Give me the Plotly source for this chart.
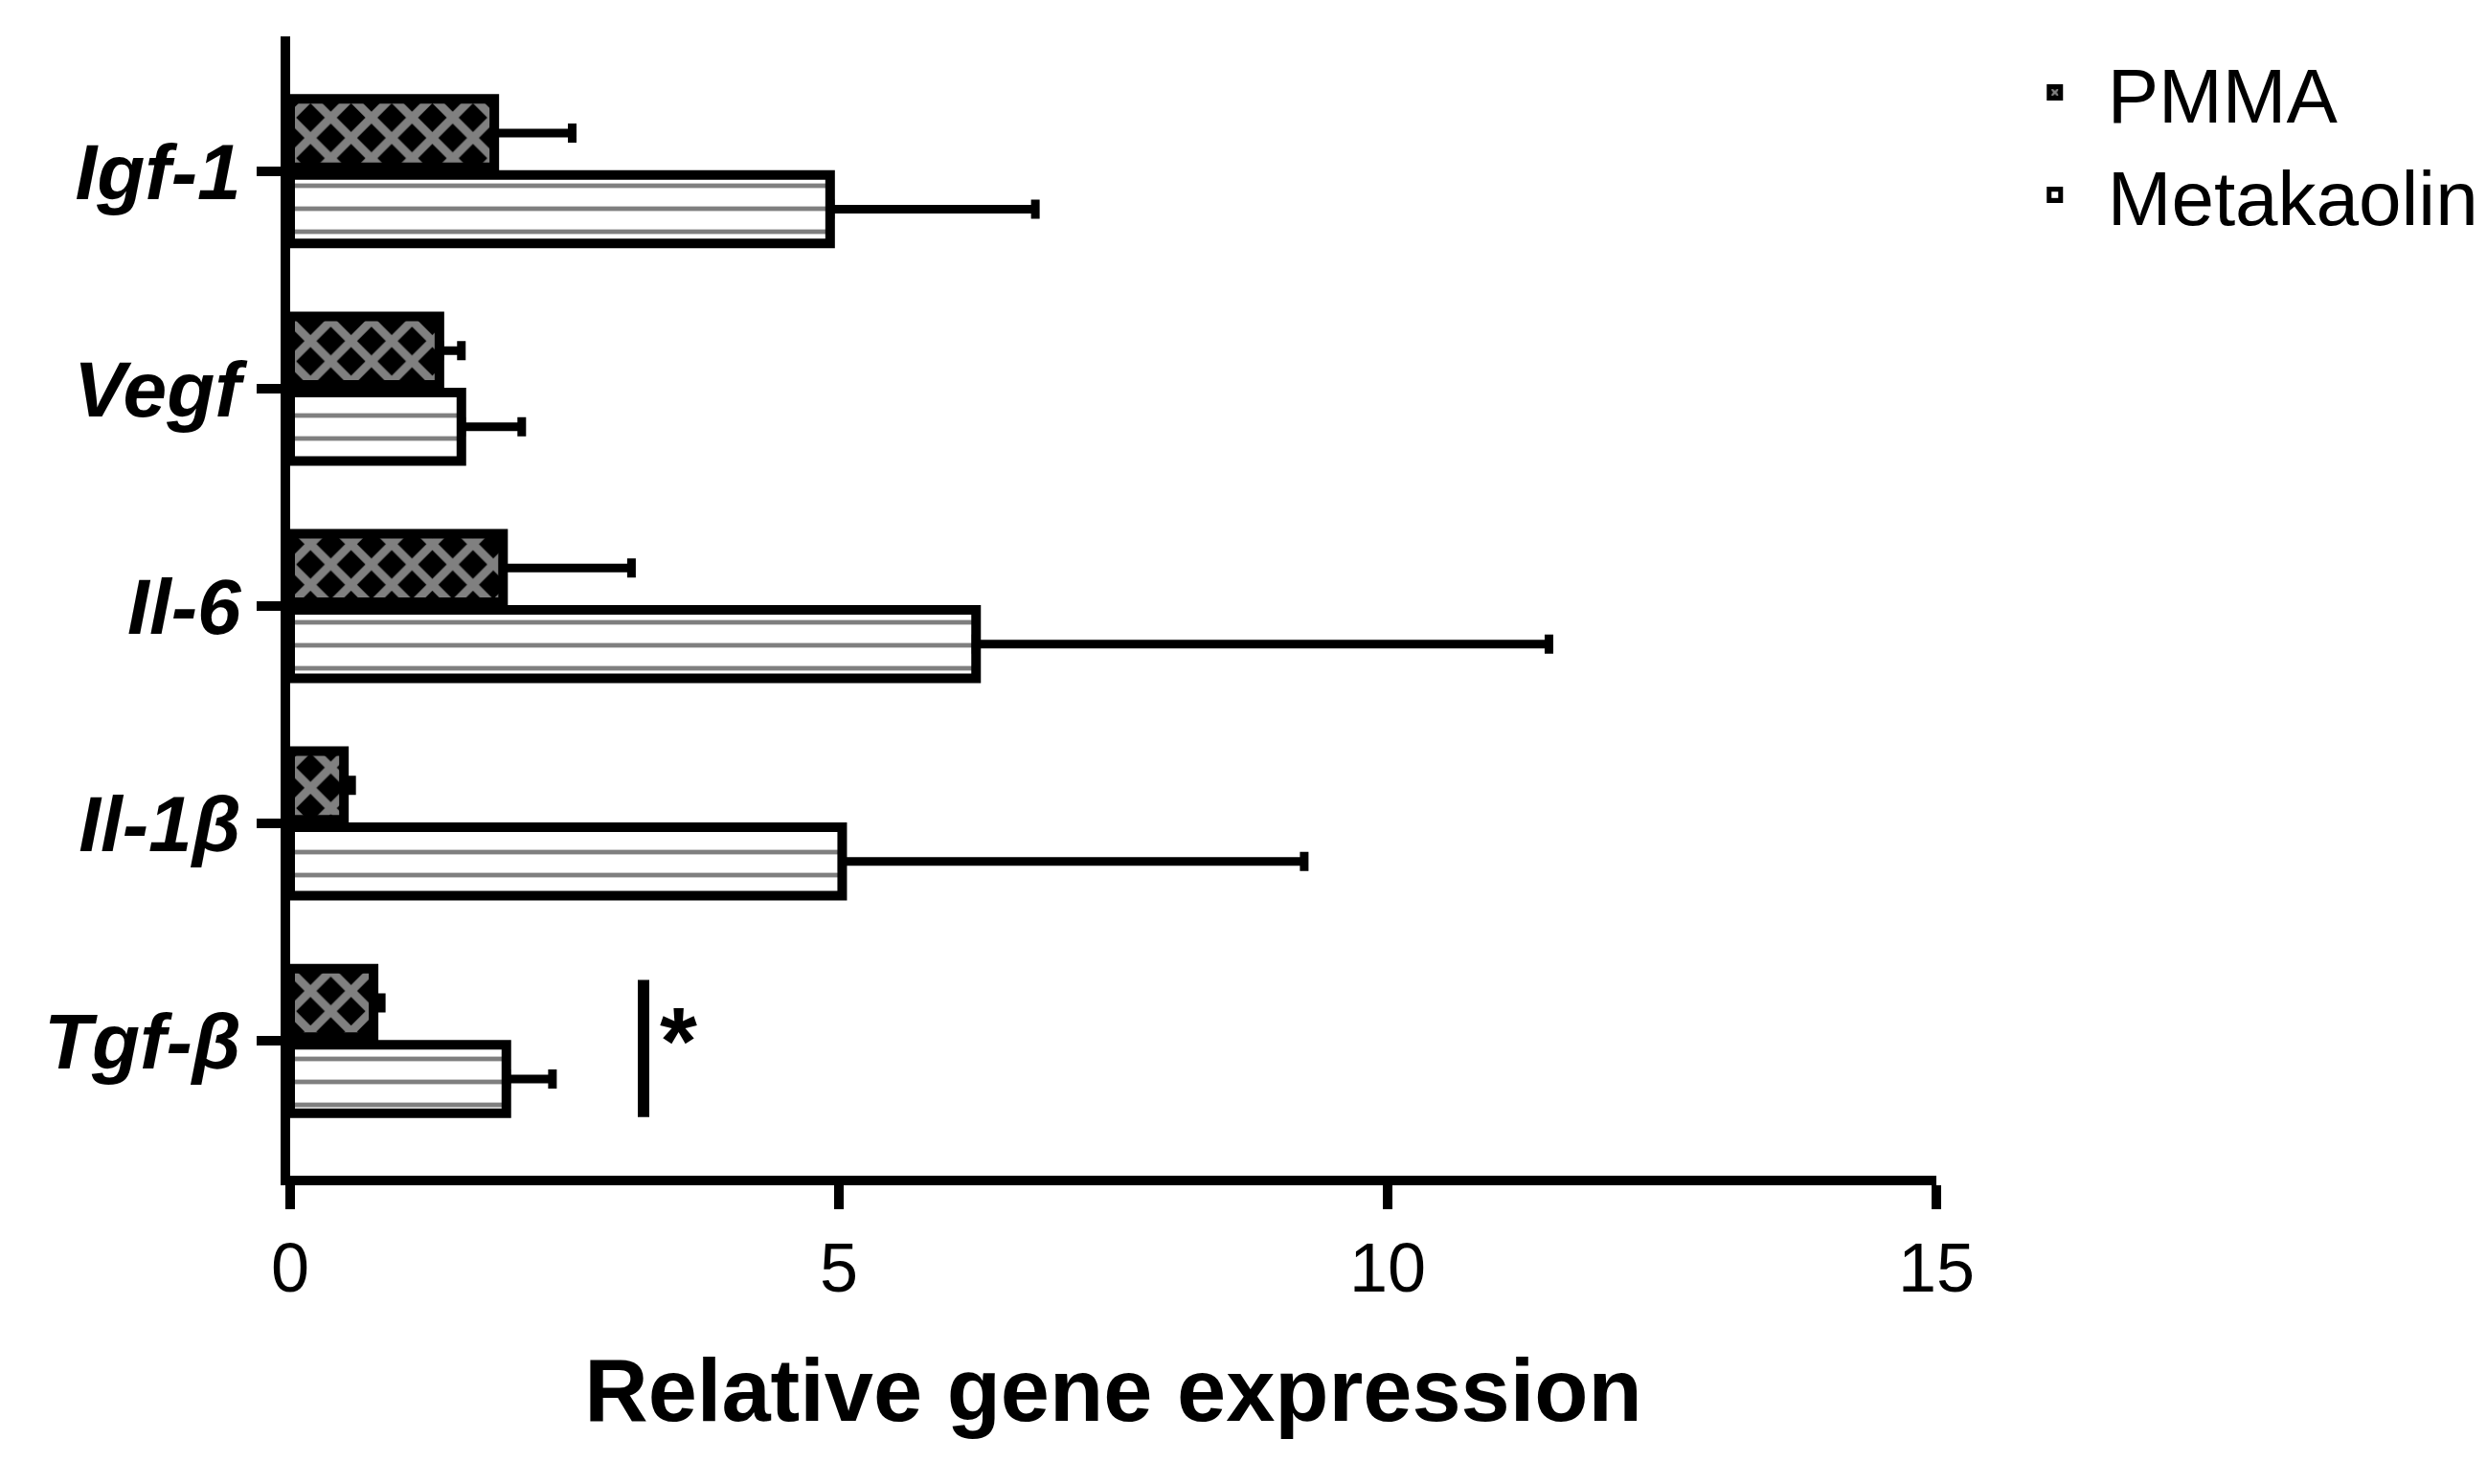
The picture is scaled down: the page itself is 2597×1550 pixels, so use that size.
import plotly.graph_objects as go

genes = ["Igf-1", "Vegf", "Il-6", "Il-1β", "Tgf-β"]
labels = ["<b><i>Igf-1</i></b>", "<b><i>Vegf</i></b>", "<b><i>Il-6</i></b>", "<b><i>Il-1β</i></b>", "<b><i>Tgf-β</i></b>"]
pmma = [1.86, 1.36, 1.94, 0.49, 0.76]
pmma_err = [0.71, 0.20, 1.17, 0.07, 0.07]
meta = [4.92, 1.56, 6.25, 5.03, 1.97]
meta_err = [1.87, 0.55, 5.22, 4.21, 0.42]
xticks = [0, 5, 10, 15]

font = "Liberation Sans, Arial, sans-serif"
fig = go.Figure()
fig.add_trace(go.Bar(
    y=labels, x=pmma, orientation="h", name="PMMA",
    marker=dict(color="black", line=dict(color="black", width=10),
                pattern=dict(shape="x", fgcolor="white", bgcolor="black", size=30, solidity=0.5)),
    error_x=dict(type="data", array=pmma_err, arrayminus=[0]*5, symmetric=False,
                 color="black", thickness=9, width=10)))
fig.add_trace(go.Bar(
    y=labels, x=meta, orientation="h", name="Metakaolin",
    marker=dict(color="white", line=dict(color="black", width=10),
                pattern=dict(shape="-", fgcolor="black", bgcolor="white", size=24, solidity=0.2)),
    error_x=dict(type="data", array=meta_err, arrayminus=[0]*5, symmetric=False,
                 color="black", thickness=9, width=10)))

fig.add_shape(type="line", xref="x", yref="y", x0=3.22, x1=3.22, y0=3.72, y1=4.35,
              line=dict(color="black", width=12))
fig.add_annotation(x=3.35, y=4.0, xref="x", yref="y", text="<b>*</b>", showarrow=False,
                   xanchor="left", font=dict(size=100, family=font, color="black"))

fig.update_layout(
    width=2597, height=1550, plot_bgcolor="white", paper_bgcolor="white",
    margin=dict(l=295, r=513, t=30, b=330),
    barmode="group", bargap=0.3, bargroupgap=0.1,
    font=dict(family=font, color="black"),
    legend=dict(x=1.04, y=1.0, xanchor="left", yanchor="top", font=dict(size=80),
                traceorder="normal", itemwidth=100),
    xaxis=dict(range=[0, 15], tickvals=xticks, showline=True, linewidth=10, linecolor="black",
               ticks="outside", ticklen=25, tickwidth=10, tickcolor="black", showgrid=False,
               zeroline=False, tickfont=dict(size=72),
               title=dict(text="<b>Relative gene expression</b>", font=dict(size=92), standoff=60)),
    yaxis=dict(autorange=False, range=[4.62, -0.62], showline=True, linewidth=10, linecolor="black",
               ticks="outside", ticklen=25, tickwidth=10, tickcolor="black", showgrid=False,
               tickfont=dict(size=82)),
)
fig.write_html("out.html")
